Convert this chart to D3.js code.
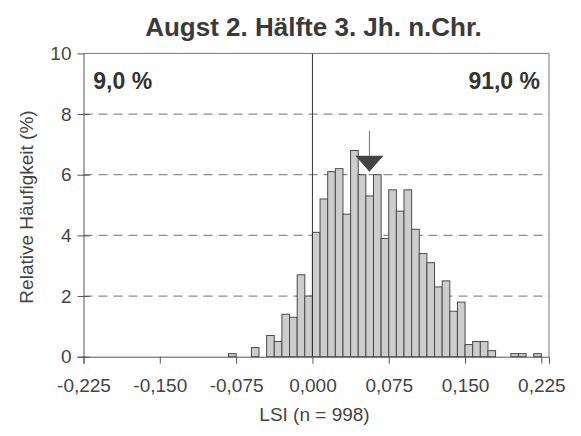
<!DOCTYPE html>
<html>
<head>
<meta charset="utf-8">
<script src="https://cdn.jsdelivr.net/npm/d3@7"></script>
<style>
  html, body { margin: 0; padding: 0; background: #fff; }
  svg { display: block; font-family: "Liberation Sans", Arial, sans-serif; }
</style>
</head>
<body>
<svg id="chart" width="581" height="436"></svg>
<script>
// ---- data ----
const title = "Augst 2. Hälfte 3. Jh. n.Chr.";
const xLabel = "LSI (n = 998)";
const yLabel = "Relative Häufigkeit (%)";
const binWidth = 0.0075;
// lower edges of the histogram bins that hold data
const binStart = [-0.0825, -0.06, -0.045, -0.0375, -0.03, -0.0225, -0.015, -0.0075,
  0, 0.0075, 0.015, 0.0225, 0.03, 0.0375, 0.045, 0.0525, 0.06, 0.0675, 0.075, 0.0825,
  0.09, 0.0975, 0.105, 0.1125, 0.12, 0.1275, 0.135, 0.1425, 0.15, 0.1575, 0.165, 0.1725,
  0.195, 0.2025, 0.2175];
// relative frequency (%)
const freq = [0.1, 0.3, 0.7, 0.5, 1.4, 1.3, 2.7, 2.0,
  4.1, 5.2, 6.1, 6.2, 4.7, 6.8, 6.0, 5.3, 6.0, 3.9, 5.5, 4.8,
  5.5, 4.2, 3.4, 3.1, 2.3, 2.5, 1.5, 1.8, 0.4, 0.5, 0.5, 0.2,
  0.1, 0.1, 0.1];
const xTicks = [-0.225, -0.15, -0.075, 0, 0.075, 0.15, 0.225];
const yTicks = [0, 2, 4, 6, 8, 10];
const gridValues = [2, 4, 6, 8];
const shareLeft = "9,0 %";
const shareRight = "91,0 %";
const meanValue = 0.056;
const arrowTipValue = 6.1;

(function () {
// ---- layout ----
const pL = 83.5, pR = 549, pT = 53.4, pB = 356.7;
const svg = d3.select("#chart");
const x = d3.scaleLinear().domain([-0.225, 0.2325]).range([pL, pR]);
const y = d3.scaleLinear().domain([0, 10]).range([pB, pT]);
const loc = d3.formatLocale({decimal: ",", thousands: ".", grouping: [3], currency: ["", ""], minus: "-"});
const fmt = loc.format(".3f");

// gridlines
svg.append("g").selectAll("line").data(gridValues).join("line")
  .attr("x1", pL).attr("x2", pR)
  .attr("y1", d => y(d)).attr("y2", d => y(d))
  .attr("stroke", "#8c8c8c").attr("stroke-width", 1.2)
  .attr("stroke-dasharray", "9,6");

// bars
const data = binStart.map((s, i) => ({s, v: freq[i]}));
svg.append("g").selectAll("rect").data(data).join("rect")
  .attr("x", d => x(d.s))
  .attr("width", d => x(d.s + binWidth) - x(d.s))
  .attr("y", d => y(d.v))
  .attr("height", d => y(0) - y(d.v))
  .attr("fill", "#cdcdcd")
  .attr("stroke", "#4a4a4a").attr("stroke-width", 1);

// frame top/right
svg.append("line").attr("x1", pL).attr("x2", pR).attr("y1", pT).attr("y2", pT)
  .attr("stroke", "#777").attr("stroke-width", 1);
svg.append("line").attr("x1", pR).attr("x2", pR).attr("y1", pT).attr("y2", pB)
  .attr("stroke", "#777").attr("stroke-width", 1);

// zero line
svg.append("line").attr("x1", x(0)).attr("x2", x(0)).attr("y1", pT).attr("y2", pB)
  .attr("stroke", "#333").attr("stroke-width", 1);

// x axis
const gx = svg.append("g").attr("transform", `translate(0,${pB})`)
  .call(d3.axisBottom(x).tickValues(xTicks).tickFormat(fmt).tickSizeOuter(0).tickSize(7).tickPadding(15));
gx.select(".domain").attr("stroke", "#555");
gx.selectAll(".tick line").attr("stroke", "#555");
gx.selectAll("text").attr("font-size", 19).attr("fill", "#444").attr("font-family", "Liberation Sans, Arial, sans-serif");

// y axis
const gy = svg.append("g").attr("transform", `translate(${pL},0)`)
  .call(d3.axisLeft(y).tickValues(yTicks).tickFormat(d3.format("d")).tickSizeOuter(0).tickSize(6).tickPadding(6));
gy.select(".domain").attr("stroke", "#555");
gy.selectAll(".tick line").attr("stroke", "#555").attr("x2", (d) => d === 10 ? -6 : 6).attr("x1", -6);
gy.selectAll("text").attr("font-size", 19).attr("fill", "#444").attr("font-family", "Liberation Sans, Arial, sans-serif");

// mean arrow
const ax = x(meanValue), tip = y(arrowTipValue);
svg.append("line").attr("x1", ax).attr("x2", ax).attr("y1", tip - 41).attr("y2", tip - 16)
  .attr("stroke", "#777").attr("stroke-width", 1);
svg.append("path")
  .attr("d", `M${ax - 14},${tip - 16} L${ax + 14},${tip - 16} L${ax},${tip} Z`)
  .attr("fill", "#444");

// share labels
svg.append("text").attr("x", 93.3).attr("y", 89.3).text(shareLeft)
  .attr("font-size", 23).attr("font-weight", "bold").attr("fill", "#333");
svg.append("text").attr("x", 540).attr("y", 89.3).attr("text-anchor", "end").text(shareRight)
  .attr("font-size", 23).attr("font-weight", "bold").attr("fill", "#333");

// title
svg.append("text").attr("x", 313.5).attr("y", 35.6).attr("text-anchor", "middle").text(title)
  .attr("font-size", 26).attr("font-weight", "bold").attr("fill", "#3a3a3a");

// axis titles
svg.append("text").attr("x", 314.5).attr("y", 421).attr("text-anchor", "middle").text(xLabel)
  .attr("font-size", 19).attr("fill", "#444");
svg.append("text").attr("transform", "translate(32.5,207) rotate(-90)").attr("text-anchor", "middle")
  .text(yLabel).attr("font-size", 19).attr("fill", "#444");
})();
</script>
</body>
</html>
